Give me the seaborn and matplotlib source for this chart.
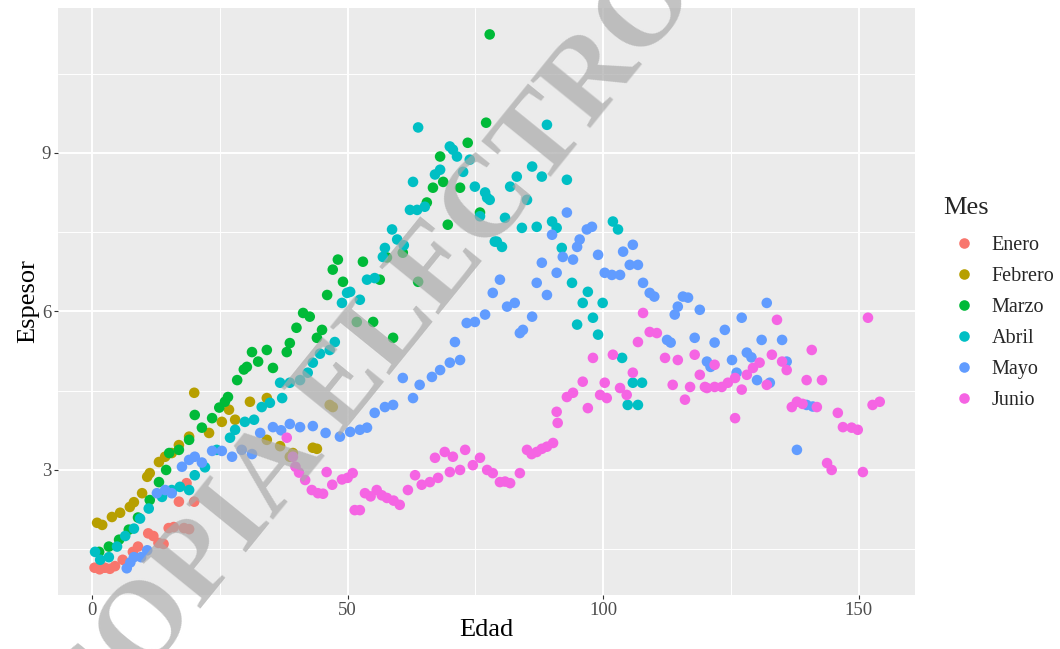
import matplotlib
matplotlib.use("Agg")
import matplotlib.pyplot as plt
from matplotlib.ticker import FixedLocator
import pandas as pd
import seaborn as sns

# ---------------- data ----------------
meses = ["Enero", "Febrero", "Marzo", "Abril", "Mayo", "Junio"]
colores = ["#F8766D", "#B79F00", "#00BA38", "#00BFC4", "#619CFF", "#F564E3"]

enero_edad = [0.5, 1.5, 2.5, 3.5, 4.5, 6, 8, 9, 11, 12, 13, 14, 15, 16, 17, 18, 18.5, 19, 20]
enero_esp = [1.15, 1.12, 1.15, 1.13, 1.18, 1.3, 1.45, 1.55, 1.8, 1.75, 1.62, 1.6, 1.9, 1.92, 2.4, 1.9, 2.75, 1.88, 2.4]

febrero_edad = [1, 2, 3.9, 5.5, 7.4, 8.2, 9.8, 10.8, 11.3, 13.1, 14.3, 15.6, 17, 19, 20, 22.9, 25.4, 26.8,
                28, 30.9, 34.2, 34.2, 36.8, 38.7, 39.3, 43.2, 44, 46.5, 47.1]
febrero_esp = [2.0, 1.96, 2.11, 2.19, 2.3, 2.39, 2.56, 2.87, 2.94, 3.15, 3.25, 3.32, 3.47, 3.63, 4.46, 3.7, 3.91, 4.14,
               3.95, 4.29, 3.57, 4.36, 3.45, 3.25, 3.32, 3.42, 3.4, 4.23, 4.19]

marzo_edad = [1.4, 3.3, 5.3, 7.2, 9, 11.3, 13.1, 14.5, 15.1, 17, 19, 20.1, 21.5, 23.5, 24.9, 26, 26.6, 28.4, 29.7,
              30.3, 31.3, 32.5, 34.2, 35.4, 38.1, 38.7, 40, 41.3, 42.6, 44, 45, 46, 47.1, 48.1, 49.1, 51.8, 53,
              55, 56.3, 57.7, 58.9, 60.8, 63.8, 65.5, 66.7, 68.1, 68.7, 69.6, 72, 73.5, 75.9, 77.1, 77.8]
marzo_esp = [1.45, 1.55, 1.68, 1.87, 2.1, 2.43, 2.77, 3.0, 3.32, 3.38, 3.57, 4.04, 3.8, 3.98, 4.18, 4.29, 4.38, 4.7,
             4.9, 4.95, 5.23, 5.05, 5.27, 4.93, 5.23, 5.4, 5.69, 5.97, 5.9, 5.5, 5.65, 6.31, 6.79, 6.98, 6.56, 5.8,
             6.94, 5.8, 6.6, 7.02, 5.5, 7.11, 6.56, 8.06, 8.34, 8.93, 8.45, 7.64, 8.34, 9.19, 7.87, 9.57, 11.24]

abril_edad = [0.6, 1.6, 3.3, 4.9, 6.5, 8.2, 9.4, 11.1, 13.7, 15.6, 17.2, 19, 20.1, 22.1, 24.4, 27, 28, 29.9, 31.7,
              33.2, 34.8, 36.8, 37.2, 38.7, 40.7, 42.2, 43.2, 44.6, 46.5, 47.5, 48.9, 49.9, 50.5, 52.4, 53.8, 55.3,
              56.9, 57.3, 58.7, 59.7, 61, 62.2, 63.6, 63.8, 65.1, 62.8, 67.1, 68.1, 70, 70.6, 71.4, 72.6, 73.9,
              74.9, 75.9, 76.9, 77.3, 77.8, 78.8, 79.2, 80.2, 80.8, 81.8, 83.1, 84.1, 85.1, 86.1, 87, 88, 89, 90,
              90.9, 91.9, 92.9, 93.9, 94.9, 96, 97, 98, 99, 99.9, 101.9, 102.9, 103.7, 104.8, 105.8, 106.8, 107.6]
abril_esp = [1.45, 1.3, 1.35, 1.55, 1.75, 1.89, 2.08, 2.27, 2.49, 2.62, 2.68, 2.62, 2.9, 3.05, 3.38, 3.61, 3.76, 3.91,
             3.95, 4.19, 4.27, 4.65, 4.36, 4.65, 4.7, 4.84, 5.03, 5.2, 5.27, 5.42, 6.16, 6.35, 6.37, 6.22, 6.6, 6.63,
             7.03, 7.2, 7.55, 7.36, 7.25, 7.92, 7.92, 9.48, 7.98, 8.45, 8.59, 8.68, 9.12, 9.06, 8.93, 8.64, 8.87,
             8.36, 7.8, 8.25, 8.15, 8.11, 7.32, 7.32, 7.22, 7.77, 8.36, 8.55, 7.58, 8.11, 8.74, 7.6, 8.55, 9.53, 7.7,
             7.58, 7.2, 8.49, 6.54, 5.75, 6.16, 6.37, 5.88, 5.56, 6.16, 7.7, 7.55, 5.12, 4.23, 4.65, 4.23, 4.65]

mayo_edad = [6.8, 7.5, 8.2, 9.6, 10.8, 12.7, 14.3, 15.6, 17.6, 19, 20.1, 21.5, 23.5, 25.4, 27.4, 29.3, 31.3, 32.9,
             35.4, 37, 38.7, 40.7, 43.2, 45.7, 48.5, 50.5, 52.4, 53.8, 55.3, 57.3, 58.9, 60.8, 62.8, 64.1, 66.5,
             68.1, 70, 71, 72, 73.3, 74.9, 76.9, 78.4, 79.8, 81.2, 82.7, 83.7, 84.3, 86.1, 87, 88, 89, 90, 90.9,
             92.1, 92.9, 94.1, 94.9, 95.4, 96.8, 97.8, 99, 100.3, 101.7, 103.3, 103.9, 105.2, 105.8, 106.8, 107.8,
             109.1, 110, 112.5, 113.2, 114, 114.6, 115.6, 116.6, 117.9, 118.9, 120.3, 121, 121.8, 123.8, 125.2,
             126.1, 127.1, 128.1, 129, 130.1, 131, 132, 132.6, 135, 135.9, 137.9, 139.8, 141]
mayo_esp = [1.14, 1.25, 1.35, 1.35, 1.48, 2.56, 2.62, 2.56, 3.06, 3.19, 3.25, 3.14, 3.36, 3.36, 3.25, 3.38, 3.3, 3.7,
            3.81, 3.75, 3.87, 3.81, 3.83, 3.7, 3.63, 3.72, 3.76, 3.8, 4.08, 4.19, 4.23, 4.74, 4.36, 4.61, 4.76,
            4.89, 5.03, 5.42, 5.08, 5.78, 5.8, 5.94, 6.35, 6.6, 6.09, 6.16, 5.59, 5.65, 5.9, 6.54, 6.92, 6.31, 7.45,
            6.73, 7.03, 7.87, 6.98, 7.22, 7.36, 7.55, 7.6, 7.07, 6.73, 6.69, 6.69, 7.13, 6.88, 7.26, 6.88, 6.54,
            6.35, 6.28, 5.46, 5.41, 5.94, 6.09, 6.28, 6.26, 5.5, 6.03, 5.05, 4.95, 5.41, 5.65, 5.08,
            4.84, 5.88, 5.22, 5.13, 4.7, 5.46, 6.16, 4.65, 5.46, 5.05, 3.38, 4.23, 4.2]

junio_edad = [38.1, 39.3, 39.8, 40.5, 41.7, 43, 44.2, 45.2, 45.9, 47, 48.9, 50, 51, 51.4, 52.4, 53.4, 54.5, 55.7,
              56.7, 57.7, 59, 60.2, 61.8, 63.2, 64.5, 66.1, 67.1, 67.7, 69, 70, 70.6, 72, 73, 74.5, 75.9, 77.3,
              78.4, 79.8, 80.8, 81.8, 83.7, 85.1, 86, 87, 88, 89, 90.2, 90.9, 91.1, 92.9, 94.1, 96, 97, 98, 99.4,
              100.3, 100.7, 101.9, 103.3, 104.6, 105.8, 106.8, 107.8, 109.1, 110.5, 112.1, 113.6, 114.6, 116, 117,
              117.9, 118.9, 119.9, 120.3, 121.8, 121.8, 123.2, 124.4, 125.8, 125.8, 127.1, 128.1, 129.3, 130.6,
              132, 133, 134, 135, 135.9, 136.9, 137.9, 139, 139.8, 140.8, 141.8, 142.8, 143.8, 144.7, 145.9,
              146.9, 148.6, 149.8, 150.8, 151.8, 152.7, 154.1]
junio_esp = [3.61, 3.25, 3.06, 2.95, 2.81, 2.62, 2.56, 2.55, 2.96, 2.72, 2.82, 2.85, 2.94, 2.24, 2.24, 2.56, 2.5, 2.62,
             2.52, 2.47, 2.42, 2.34, 2.62, 2.9, 2.72, 2.77, 3.23, 2.85, 3.34, 2.96, 3.25, 3.0, 3.38, 3.09, 3.23, 3.0,
             2.94, 2.77, 2.78, 2.75, 2.94, 3.38, 3.3, 3.34, 3.4, 3.44, 3.51, 4.1, 3.89, 4.38, 4.46, 4.67, 4.17, 5.12,
             4.42, 4.65, 4.36, 5.18, 4.55, 4.42, 4.84, 5.42, 5.97, 5.61, 5.59, 5.12, 4.61, 5.08, 4.33, 4.57,
             5.18, 4.8, 4.57, 4.55, 4.99, 4.57, 4.57, 4.65, 4.74, 3.98, 4.52, 4.8, 4.93, 5.03,
             4.61, 5.18, 5.84, 5.05, 4.89, 4.19, 4.29, 4.25, 4.7, 5.27, 4.19, 4.7, 3.13, 3.0, 4.08,
             3.81, 3.8, 3.76, 2.96, 5.88, 4.23, 4.29]

x_ticks = [0, 50, 100, 150]
y_ticks = [3, 6, 9]
x_label = "Edad"
y_label = "Espesor"
legend_title = "Mes"
marca_agua = "COPIA ELECTRONICA"

# ---------------- frame ----------------
series = [(enero_edad, enero_esp), (febrero_edad, febrero_esp), (marzo_edad, marzo_esp),
          (abril_edad, abril_esp), (mayo_edad, mayo_esp), (junio_edad, junio_esp)]
rows = []
for mes, (ed, es) in zip(meses, series):
    for a, b in zip(ed, es):
        rows.append({"Edad": a, "Espesor": b, "Mes": mes})
df = pd.DataFrame(rows)

sns.set_theme(style="darkgrid")
plt.rcParams["font.family"] = ["Liberation Serif", "DejaVu Serif"]

fig = plt.figure(figsize=(10.6, 6.49), dpi=100)
ax = fig.add_axes([58 / 1060, 1 - 595 / 649, (915 - 58) / 1060, (595 - 8) / 649])
ax.set_facecolor("#EBEBEB")

sns.scatterplot(data=df, x="Edad", y="Espesor", hue="Mes", hue_order=meses,
                palette=colores, s=58, linewidth=0, alpha=1, ax=ax, zorder=3)

ax.set_xlim(-6.65, 161.0)
ax.set_ylim(0.634, 11.74)
ax.xaxis.set_major_locator(FixedLocator(x_ticks))
ax.yaxis.set_major_locator(FixedLocator(y_ticks))
ax.xaxis.set_minor_locator(FixedLocator([25, 75, 125]))
ax.yaxis.set_minor_locator(FixedLocator([1.5, 4.5, 7.5, 10.5]))
ax.grid(which="major", color="white", linewidth=1.4)
ax.grid(which="minor", color="white", linewidth=0.7)
ax.set_axisbelow(True)
for sp in ax.spines.values():
    sp.set_visible(False)
ax.tick_params(which="major", length=3, width=0.8, color="#333333", labelcolor="#4D4D4D",
               labelsize=13.5, pad=2, bottom=True, left=True)
ax.tick_params(which="minor", length=0)
ax.set_xlabel(x_label, fontsize=19, color="black", labelpad=0)
ax.set_ylabel(y_label, fontsize=19, color="black", labelpad=2)

leg = ax.legend(title=legend_title, loc="upper left", bbox_to_anchor=(0.890, 0.6965),
                bbox_transform=fig.transFigure, frameon=False, fontsize=14.5, title_fontsize=19,
                labelspacing=0.59, handletextpad=0.4, borderaxespad=0, borderpad=0,
                alignment="left", markerscale=1.0)
leg._legend_box.sep = 12.2

fig.text(466 / 1060, 1 - 237 / 649, marca_agua, rotation=51, rotation_mode="anchor", ha="center",
         va="center", fontsize=84, fontweight="bold", color="#a9a9a9", alpha=0.7, zorder=10,
         family="Liberation Serif")

fig.savefig("out.png", dpi=100)
